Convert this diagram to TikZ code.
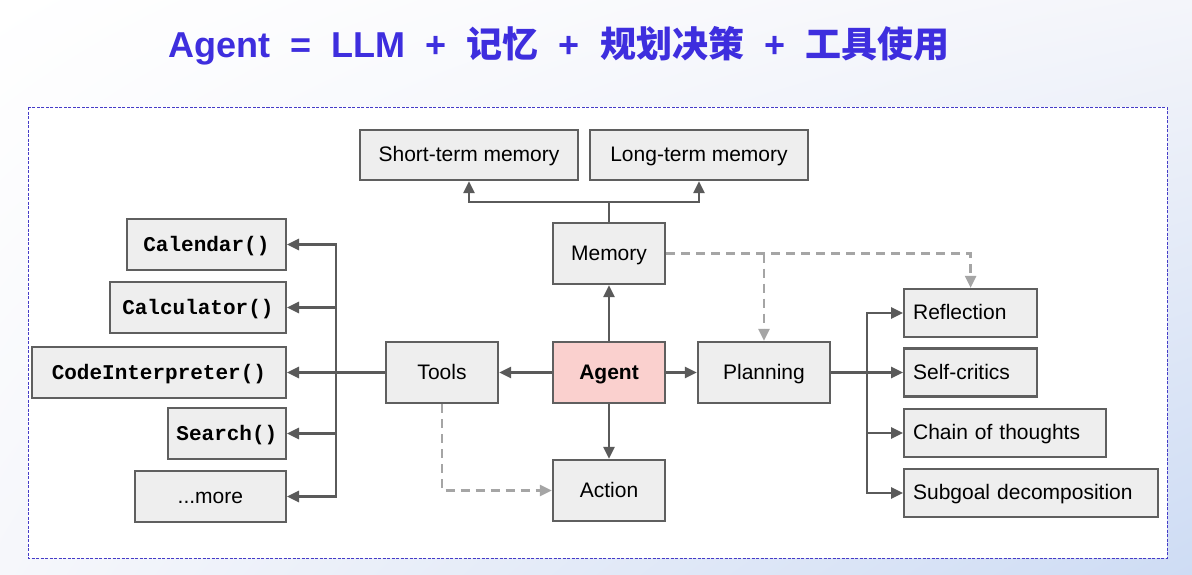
\documentclass[tikz,border=0pt]{standalone}
\usepackage{fontspec}
\setmainfont{Liberation Sans}
\setmonofont{Liberation Mono}
\newfontfamily\cjk{Noto Sans CJK SC}
\usetikzlibrary{arrows.meta,shadings}
\definecolor{titleblue}{RGB}{62,46,222}
\definecolor{framecol}{RGB}{70,60,200}
\definecolor{boxline}{RGB}{95,95,95}
\definecolor{boxfill}{RGB}{238,238,238}
\definecolor{agentfill}{RGB}{250,208,206}
\definecolor{arrowgray}{RGB}{90,90,90}
\definecolor{dashgray}{RGB}{165,165,165}
\definecolor{bgA}{RGB}{244,245,250}
\definecolor{bgB}{RGB}{246,247,251}
\definecolor{bgC}{RGB}{206,220,244}

\begin{document}
\begin{tikzpicture}[x=1pt, y=-1pt,
    box/.style={draw=boxline, fill=boxfill, line width=2.2pt, inner sep=0pt,
      text height=15.5pt, text depth=2pt, font=\fontsize{21}{25}\selectfont},
    codebox/.style={box, anchor=east, minimum height=51, font=\fontsize{21}{25}\selectfont\ttfamily\bfseries},
    leftbox/.style={box, anchor=west, align=left, text width=#1, inner xsep=9pt, minimum height=48},
    arr/.style={draw=arrowgray, line width=2.6pt, -{Triangle[length=12pt,width=11pt]}},
    darr/.style={draw=dashgray, line width=2.4pt, dash pattern=on 9pt off 6pt, -{Triangle[length=12pt,width=11pt]}}]
  \shade[upper left=white, upper right=bgA, lower left=bgB, lower right=bgC] (0,0) rectangle (1192,574);
  \node[text=titleblue, font=\fontsize{36}{40}\selectfont\bfseries] (title) at (559,46)
    {Agent~~=~~LLM~~+~~{\cjk 记忆}~~+~~{\cjk 规划决策}~~+~~{\cjk 工具使用}};
  \draw[framecol, line width=0.9pt, dash pattern=on 3pt off 1.5pt, fill=white] (28,107) rectangle (1167,558);

  \node[box, minimum width=218, minimum height=50] (shortm) at (469,155) {Short-term memory};
  \node[box, minimum width=218, minimum height=50] (longm) at (699,155) {Long-term memory};
  \node[box, minimum width=112, minimum height=61] (memory) at (609,253.5) {Memory};
  \node[box, minimum width=112, minimum height=61, fill=agentfill, font=\fontsize{21}{25}\selectfont\bfseries] (agent) at (609,372.5) {Agent};
  \node[box, minimum width=112, minimum height=61] (tools) at (442,372.5) {Tools};
  \node[box, minimum width=132, minimum height=61] (planning) at (764,372.5) {Planning};
  \node[box, minimum width=112, minimum height=61] (action) at (609,490.5) {Action};

  \node[codebox, minimum width=159] (calendar) at (287,244.5) {Calendar()};
  \node[codebox, minimum width=176] (calculator) at (287,307.5) {Calculator()};
  \node[codebox, minimum width=254] (codeint) at (287,372.5) {CodeInterpreter()};
  \node[codebox, minimum width=118] (search) at (287,433.5) {Search()};
  \node[codebox, minimum width=151, font=\fontsize{21}{25}\selectfont] (more) at (287,496.5) {...more};

  \node[leftbox=115] (reflection) at (903,313) {Reflection};
  \node[leftbox=115] (selfcrit) at (903,372.5) {Self-critics};
  \node[leftbox=184] (chain) at (903,433) {Chain of thoughts};
  \node[leftbox=236] (subgoal) at (903,493) {Subgoal decomposition};

  \coordinate (msplit) at (609,202);
  \coordinate (tbus) at (336,372.5);
  \coordinate (pbus) at (867,372.5);
  \coordinate (mdash) at (memory.east -| planning.north);

  \draw[arr] (agent) -- (memory);
  \draw[arr] (agent) -- (tools);
  \draw[arr] (agent) -- (planning);
  \draw[arr] (agent) -- (action);
  \draw[arr] (memory.north) -- (msplit) -| (shortm.south);
  \draw[arr] (msplit) -| (longm.south);
  \draw[arr] (tools.west) -- (codeint.east);
  \foreach \n in {calendar,calculator,search,more}
    \draw[arr] (tbus) |- (\n.east);
  \draw[arr] (planning.east) -- (selfcrit.west);
  \foreach \n in {reflection,chain,subgoal}
    \draw[arr] (pbus) |- (\n.west);
  \draw[darr] (memory.east) -| (reflection.north);
  \draw[darr] (mdash) -- (planning.north);
  \draw[darr] (tools.south) |- (action.west);
\end{tikzpicture}
\end{document}
